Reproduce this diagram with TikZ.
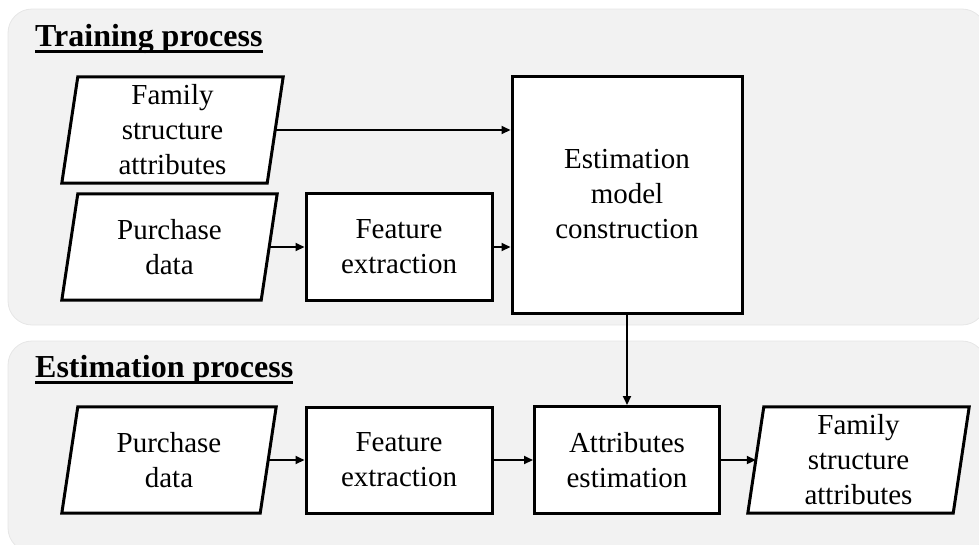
\documentclass[tikz,border=0pt]{standalone}
\usepackage{fontspec}
\setmainfont{Liberation Serif}
\usetikzlibrary{arrows.meta,calc}
\pgfdeclarelayer{panel}
\pgfdeclarelayer{shape}
\pgfsetlayers{panel,shape,main}
\definecolor{panelgray}{RGB}{242,242,242}
\definecolor{paneledge}{RGB}{230,230,230}
\tikzset{
  body/.style={font=\fontsize{29}{35}\selectfont, align=center, inner sep=0pt},
  procbox/.style={body, draw, line width=3pt, fill=white},
  datanode/.style={body, minimum height=106pt},
  flow/.style={line width=2pt, -{Triangle[length=9pt,width=8pt]}},
  panelbox/.style={fill=panelgray, draw=paneledge, line width=0.8pt, rounded corners=24pt},
  heading/.style={font=\fontsize{32}{38}\selectfont\bfseries, inner sep=0pt, anchor=base west},
  headrule/.style={line width=2.8pt},
  slabshape/.style={draw, line width=3pt, fill=white, line join=miter}
}
% slanted data box drawn behind a text node: #1 node name, #2 half of the slant
\newcommand\dataslab[2]{%
  \begin{pgfonlayer}{shape}
    \draw[slabshape] ($(#1.south west)+(-#2,0)$) -- ($(#1.north west)+(#2,0)$)
      -- ($(#1.north east)+(#2,0)$) -- ($(#1.south east)+(-#2,0)$) -- cycle;
  \end{pgfonlayer}}
\begin{document}
\begin{tikzpicture}[x=1pt,y=-1pt]
  \useasboundingbox (0,0) rectangle (979,544);

  % process panels
  \begin{pgfonlayer}{panel}
    \draw[panelbox] (8,9) rectangle (986,325);
    \draw[panelbox] (8,341) rectangle (986,552);
  \end{pgfonlayer}

  % headings
  \node[heading] (t1) at (35,46) {Training process};
  \draw[headrule] ($(t1.base west)+(0,5.5)$) -- ($(t1.base east)+(0,5.5)$);
  \node[heading] (t2) at (35,377) {Estimation process};
  \draw[headrule] ($(t2.base west)+(0,5.5)$) -- ($(t2.base east)+(0,5.5)$);

  % training process
  \node[datanode, minimum width=205pt] (fam1) at (172.5,130) {Family\\structure\\attributes};
  \dataslab{fam1}{8}
  \node[datanode, minimum width=199pt] (pur1) at (169.5,247) {Purchase\\data};
  \dataslab{pur1}{8}
  \node[procbox, minimum width=186pt, minimum height=107pt] (feat1) at (399,247) {Feature\\extraction};
  \node[procbox, minimum width=230pt, minimum height=237pt] (emc) at (627,194.5) {Estimation\\model\\construction};

  % estimation process
  \node[datanode, minimum width=198pt] (pur2) at (169,460) {Purchase\\data};
  \dataslab{pur2}{8}
  \node[procbox, minimum width=186pt, minimum height=106pt] (feat2) at (399,460) {Feature\\extraction};
  \node[procbox, minimum width=185pt, minimum height=107pt] (attr) at (627,460) {Attributes\\estimation};
  \node[datanode, minimum width=205pt] (fam2) at (858.5,460) {Family\\structure\\attributes};
  \dataslab{fam2}{8}

  % connectors
  \draw[flow] (fam1.east) -- (fam1.east -| emc.west);
  \draw[flow] (pur1.east) -- (pur1.east -| feat1.west);
  \draw[flow] (feat1.east) -- (feat1.east -| emc.west);
  \draw[flow] (emc.south) -- (attr.north);
  \draw[flow] (pur2.east) -- (feat2.west);
  \draw[flow] (feat2.east) -- (attr.west);
  \draw[flow] (attr.east) -- (fam2.west);
\end{tikzpicture}
\end{document}
